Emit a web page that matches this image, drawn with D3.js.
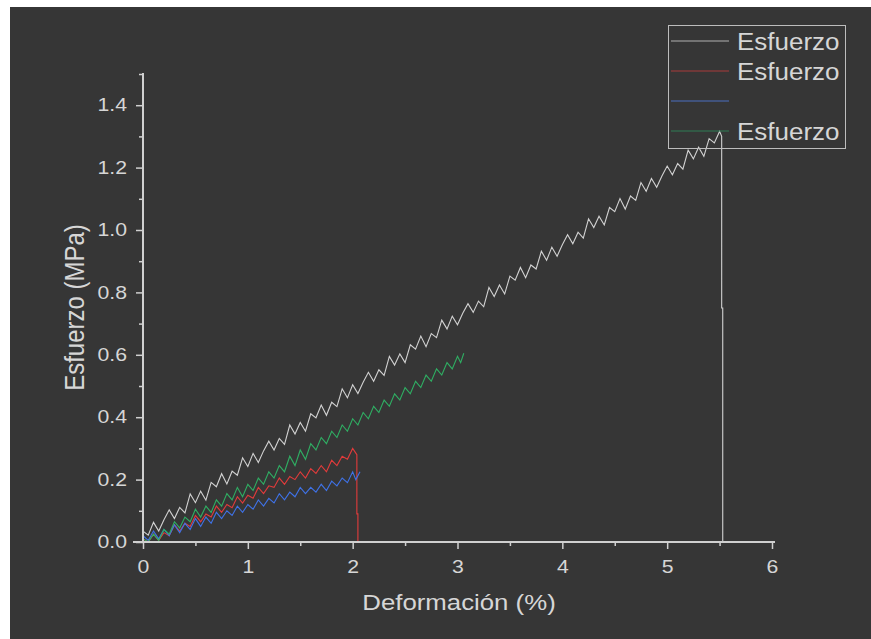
<!DOCTYPE html>
<html lang="en">
<head>
    <meta charset="UTF-8">
    <title>Esfuerzo vs Deformación</title>
    <script src="https://d3js.org/d3.v7.min.js"></script>
    <style>
        body { margin: 0; background: white; }
        svg { display: block; }
        text { font-family: "Liberation Sans", Arial, sans-serif; fill: #d6d6d6; }
    </style>
</head>
<body>
    <svg></svg>
    <script>
        // Series: [deformación %, esfuerzo MPa]
        var whiteSeries = [
            [0,0.035],[0.05,0.022],[0.1,0.063],[0.15,0.035],[0.2,0.071],[0.25,0.103],[0.3,0.075],[0.35,0.111],[0.4,0.093],[0.45,0.154],
            [0.5,0.126],[0.55,0.163],[0.6,0.134],[0.65,0.191],[0.7,0.177],[0.75,0.219],[0.8,0.186],[0.85,0.227],[0.9,0.214],[0.95,0.270],
            [1.0,0.242],[1.05,0.284],[1.1,0.255],[1.15,0.292],[1.2,0.323],[1.25,0.295],[1.3,0.332],[1.35,0.313],[1.4,0.375],[1.45,0.346],
            [1.5,0.383],[1.55,0.355],[1.6,0.411],[1.65,0.398],[1.7,0.439],[1.75,0.406],[1.8,0.448],[1.85,0.434],[1.9,0.491],[1.95,0.462],
            [2.0,0.504],[2.05,0.476],[2.1,0.512],[2.15,0.544],[2.2,0.515],[2.25,0.552],[2.3,0.534],[2.35,0.595],[2.4,0.567],[2.45,0.603],
            [2.5,0.575],[2.55,0.632],[2.6,0.618],[2.65,0.660],[2.7,0.626],[2.75,0.668],[2.8,0.655],[2.85,0.711],[2.9,0.683],[2.95,0.724],
            [3.0,0.696],[3.05,0.733],[3.1,0.764],[3.15,0.736],[3.2,0.772],[3.25,0.754],[3.3,0.816],[3.35,0.787],[3.4,0.824],[3.45,0.795],
            [3.5,0.852],[3.55,0.839],[3.6,0.880],[3.65,0.847],[3.7,0.888],[3.75,0.875],[3.8,0.932],[3.85,0.903],[3.9,0.945],[3.95,0.916],
            [4.0,0.953],[4.05,0.985],[4.1,0.956],[4.15,0.993],[4.2,0.974],[4.25,1.036],[4.3,1.008],[4.35,1.044],[4.4,1.016],[4.45,1.072],
            [4.5,1.059],[4.55,1.101],[4.6,1.067],[4.65,1.109],[4.7,1.095],[4.75,1.152],[4.8,1.124],[4.85,1.165],[4.9,1.137],[4.95,1.173],
            [5.0,1.205],[5.05,1.177],[5.1,1.213],[5.15,1.195],[5.2,1.256],[5.25,1.228],[5.3,1.265],[5.35,1.236],[5.4,1.293],[5.45,1.279],
            [5.5,1.316],[5.52,1.30],[5.52,0.75],[5.53,0.75],[5.53,0.0]
        ];
        var redSeries = [
            [0,0.01],[0.05,0.0],[0.1,0.025],[0.15,0.005],[0.2,0.03],[0.25,0.02],[0.3,0.055],[0.35,0.035],[0.4,0.06],[0.45,0.05],
            [0.5,0.085],[0.55,0.065],[0.6,0.09],[0.65,0.08],[0.7,0.115],[0.75,0.095],[0.8,0.12],[0.85,0.11],[0.9,0.145],[0.95,0.125],
            [1.0,0.15],[1.05,0.14],[1.1,0.175],[1.15,0.155],[1.2,0.18],[1.25,0.175],[1.3,0.205],[1.35,0.185],[1.4,0.21],[1.45,0.2],
            [1.5,0.225],[1.55,0.205],[1.6,0.235],[1.65,0.22],[1.7,0.245],[1.75,0.225],[1.8,0.262],[1.85,0.245],[1.9,0.275],[1.95,0.265],
            [2.0,0.30],[2.03,0.285],[2.04,0.28],[2.04,0.09],[2.05,0.09],[2.05,0.0]
        ];
        var blueSeries = [
            [0,0.02],[0.05,0.005],[0.1,0.035],[0.15,0.01],[0.2,0.04],[0.25,0.02],[0.3,0.055],[0.35,0.03],[0.4,0.06],[0.45,0.04],
            [0.5,0.075],[0.55,0.05],[0.6,0.08],[0.65,0.06],[0.7,0.095],[0.75,0.075],[0.8,0.10],[0.85,0.085],[0.9,0.115],[0.95,0.095],
            [1.0,0.12],[1.05,0.105],[1.1,0.135],[1.15,0.115],[1.2,0.14],[1.25,0.125],[1.3,0.155],[1.35,0.135],[1.4,0.16],[1.45,0.145],
            [1.5,0.175],[1.55,0.155],[1.6,0.175],[1.65,0.16],[1.7,0.185],[1.75,0.165],[1.8,0.195],[1.85,0.18],[1.9,0.205],[1.95,0.19],
            [2.0,0.225],[2.03,0.20],[2.07,0.225]
        ];
        var greenSeries = [
            [0,0.01],[0.05,0.0],[0.1,0.025],[0.15,0.005],[0.2,0.04],[0.25,0.025],[0.3,0.065],[0.35,0.045],[0.4,0.08],[0.45,0.065],
            [0.5,0.105],[0.55,0.08],[0.6,0.115],[0.65,0.095],[0.7,0.135],[0.75,0.115],[0.8,0.155],[0.85,0.135],[0.9,0.175],[0.95,0.145],
            [1.0,0.185],[1.05,0.165],[1.1,0.205],[1.15,0.185],[1.2,0.225],[1.25,0.205],[1.3,0.245],[1.35,0.225],[1.4,0.275],[1.45,0.245],
            [1.5,0.295],[1.55,0.265],[1.6,0.315],[1.65,0.295],[1.7,0.335],[1.75,0.315],[1.8,0.355],[1.85,0.335],[1.9,0.375],[1.95,0.355],
            [2.0,0.395],[2.05,0.375],[2.1,0.415],[2.15,0.395],[2.2,0.435],[2.25,0.415],[2.3,0.455],[2.35,0.435],[2.4,0.475],[2.45,0.455],
            [2.5,0.495],[2.55,0.475],[2.6,0.515],[2.65,0.495],[2.7,0.535],[2.75,0.515],[2.8,0.555],[2.85,0.535],[2.9,0.575],[2.95,0.555],
            [3.0,0.595],[3.03,0.575],[3.06,0.605]
        ];
        var seriesList = [whiteSeries, redSeries, blueSeries, greenSeries];
        var seriesColors = ["#d2d2d2", "#e23b3b", "#3f72e6", "#2fae63"];
        var legendColors = ["#b0b0b0", "#a83a3a", "#4a6fc0", "#2e7d55"];
        var legendLabels = ["Esfuerzo", "Esfuerzo", "", "Esfuerzo"];
        var xMajorTicks = [0, 1, 2, 3, 4, 5, 6];
        var xMinorTicks = [0.5, 1.5, 2.5, 3.5, 4.5, 5.5];
        var yMajorTicks = [0, 0.2, 0.4, 0.6, 0.8, 1.0, 1.2, 1.4];
        var yMinorTicks = [0.1, 0.3, 0.5, 0.7, 0.9, 1.1, 1.3, 1.5];

        var width = 871, height = 639;
        var stretch = 1.18; // the original text is drawn wide
        var svg = d3.select("svg").attr("width", width).attr("height", height);

        // Dark panel
        svg.append("rect").attr("x", 10).attr("y", 7)
            .attr("width", width - 10).attr("height", height - 7)
            .attr("fill", "#363636");

        var x = d3.scaleLinear().domain([0, 6]).range([143, 772]);
        var y = d3.scaleLinear().domain([0, 1.5]).range([542, 74]);
        var axisColor = "#d0d0d0";

        // Data lines
        var line = d3.line().x(d => x(d[0])).y(d => y(d[1]));
        svg.append("g").selectAll("path")
            .data(seriesList).enter().append("path")
            .attr("d", line)
            .attr("fill", "none")
            .attr("stroke", (d, i) => seriesColors[i])
            .attr("stroke-width", 1.1);

        // X axis
        var xAxisG = svg.append("g").attr("transform", "translate(0," + y(0) + ")");
        xAxisG.call(d3.axisBottom(x).tickValues(xMajorTicks).tickSize(7).tickPadding(11).tickFormat(d3.format("d")));
        xAxisG.append("g").call(d3.axisBottom(x).tickValues(xMinorTicks).tickSize(4).tickFormat(""))
            .select(".domain").remove();
        xAxisG.select(".domain").remove();
        xAxisG.append("line").attr("x1", 133).attr("x2", 775).attr("y1", 0).attr("y2", 0)
            .attr("stroke", axisColor).attr("stroke-width", 2);
        xAxisG.selectAll(".tick text").attr("transform", "scale(" + stretch + ",1)");

        // Y axis
        var yAxisG = svg.append("g").attr("transform", "translate(" + x(0) + ",0)");
        yAxisG.call(d3.axisLeft(y).tickValues(yMajorTicks).tickSize(7).tickPadding(7).tickFormat(d3.format(".1f")));
        yAxisG.append("g").call(d3.axisLeft(y).tickValues(yMinorTicks).tickSize(4).tickFormat(""))
            .select(".domain").remove();
        yAxisG.select(".domain").remove();
        yAxisG.append("line").attr("x1", 0).attr("x2", 0).attr("y1", y(1.5) - 1).attr("y2", y(0) + 1)
            .attr("stroke", axisColor).attr("stroke-width", 2);
        yAxisG.selectAll(".tick text").attr("x", -16 / stretch)
            .attr("transform", "scale(" + stretch + ",1)");

        svg.selectAll(".tick line").attr("stroke", axisColor).attr("stroke-width", 1.5);
        svg.selectAll(".tick text").style("font-size", "18px").attr("fill", "#d6d6d6")
            .style("font-family", "'Liberation Sans', Arial, sans-serif");

        // Axis titles
        svg.append("text")
            .attr("transform", "translate(459,610) scale(1.2,1)")
            .attr("text-anchor", "middle").style("font-size", "21.5px")
            .text("Deformación (%)");
        svg.append("text")
            .attr("transform", "translate(84,307.5) rotate(-90) scale(1,1.12)")
            .attr("text-anchor", "middle").style("font-size", "24px")
            .text("Esfuerzo (MPa)");

        // Legend
        var legend = svg.append("g");
        legend.append("rect").attr("x", 668.5).attr("y", 25.5).attr("width", 177).attr("height", 123)
            .attr("fill", "none").attr("stroke", "#bdbdbd").attr("stroke-width", 1);
        var entries = legend.selectAll("g.entry").data(legendLabels).enter().append("g")
            .attr("class", "entry")
            .attr("transform", (d, i) => "translate(0," + (41 + i * 30) + ")");
        entries.append("line").attr("x1", 671).attr("x2", 729).attr("y1", 0).attr("y2", 0)
            .attr("stroke", (d, i) => legendColors[i]).attr("stroke-width", 1);
        entries.append("text")
            .attr("transform", "translate(737,9) scale(1.13,1)")
            .style("font-size", "23px").text(d => d);
    </script>
</body>
</html>
